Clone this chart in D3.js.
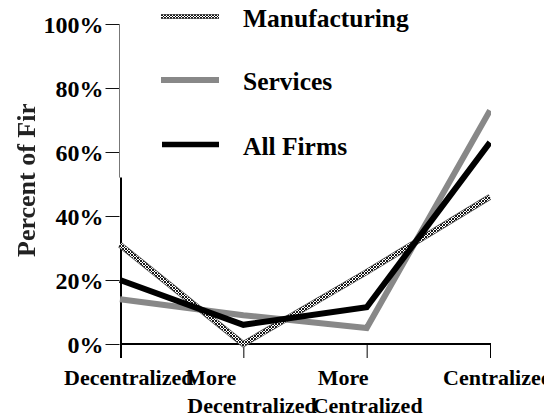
<!DOCTYPE html>
<html><head><meta charset="utf-8">
<script src="https://cdn.jsdelivr.net/npm/d3@7"></script>
<style>
html,body{margin:0;padding:0;background:#fff;}
svg{display:block;}
text{font-family:"Liberation Serif","Times New Roman",serif;font-weight:bold;}
</style></head>
<body>
<script>
const categories = ["Decentralized", "More Decentralized", "More Centralized", "Centralized"];
const categoryLines = [["Decentralized"], ["More", "Decentralized"], ["More", "Centralized"], ["Centralized"]];
const seriesNames = ["Manufacturing", "Services", "All Firms"];
const manufacturing = [31, 0, 22.5, 46];
const services = [14, 9, 5, 73];
const allFirms = [20, 6, 11.5, 63];
const yTicks = [0, 20, 40, 60, 80, 100];
const yTitle = "Percent of Firms";
const axisSplit = 52; // where the left axis changes from thin grey to thick black

const W = 544, H = 419;
const svg = d3.select("body").append("svg").attr("width", W).attr("height", H);
const defs = svg.append("defs");

const x = d3.scalePoint().domain(categories).range([120, 490]);
const xLabel = d3.scalePoint().domain(categories).range([64, 443]);
const y = d3.scaleLinear().domain([0, 100]).range([344, 24]);

// hatch pattern
const pat = defs.append("pattern").attr("id", "hatch").attr("patternUnits", "userSpaceOnUse")
  .attr("width", 3).attr("height", 3);
pat.append("rect").attr("width", 3).attr("height", 3).attr("fill", "#fff");
pat.append("path").attr("d", "M0,0L3,3M3,0L0,3").attr("stroke", "#000").attr("stroke-width", 0.9);

defs.append("clipPath").attr("id", "plotClip").append("rect")
  .attr("x", 0).attr("y", 0).attr("width", x.range()[1] + 1).attr("height", H);
defs.append("clipPath").attr("id", "titleClip").append("rect")
  .attr("x", 0).attr("y", 104).attr("width", 60).attr("height", 200);
defs.append("filter").attr("id", "soft").append("feGaussianBlur").attr("stdDeviation", 0.5);

// y title
svg.append("g").attr("clip-path", "url(#titleClip)")
  .append("text")
  .attr("transform", `translate(35,${257}) rotate(-90)`)
  .attr("font-size", 26).attr("fill", "#222").attr("filter", "url(#soft)")
  .text(yTitle);

// y axis ticks and labels
const yAxis = d3.axisLeft(y).tickValues(yTicks).tickSize(14).tickPadding(2).tickFormat(d => d + "%");
const gy = svg.append("g").attr("transform", "translate(119.5,0)").call(yAxis);
gy.select(".domain").remove();
gy.selectAll(".tick line").attr("stroke", "#111");
gy.selectAll(".tick text").attr("font-size", 24).attr("fill", "#000")
  .attr("font-family", '"Liberation Serif","Times New Roman",serif').attr("font-weight", "bold")
  .attr("dy", "0.36em");

// y axis line: thin grey upper part, thick black lower part
svg.append("line").attr("x1", 119.5).attr("x2", 119.5).attr("y1", y(100)).attr("y2", y(axisSplit))
  .attr("stroke", "#777").attr("stroke-width", 1);
svg.append("line").attr("x1", 121).attr("x2", 121).attr("y1", y(axisSplit)).attr("y2", y(0) + 14)
  .attr("stroke", "#000").attr("stroke-width", 2);

// x axis
svg.append("line").attr("x1", x(categories[0])).attr("x2", x(categories[3]) + 1)
  .attr("y1", y(0)).attr("y2", y(0)).attr("stroke", "#000").attr("stroke-width", 2);
svg.selectAll(".xtick").data(categories.slice(1)).enter().append("line")
  .attr("x1", d => x(d) + 0.5).attr("x2", d => x(d) + 0.5)
  .attr("y1", y(0)).attr("y2", y(0) + 14).attr("stroke", "#000").attr("stroke-width", 1);

// x labels (left-aligned lines, small per-line nudges as in the original layout)
const lineNudge = [[0], [-5, -3], [1, -4], [0]];
const xl = svg.selectAll(".xl").data(categories).enter().append("text")
  .attr("font-size", 22).attr("fill", "#000");
xl.each(function(d, i) {
  const t = d3.select(this);
  categoryLines[i].forEach((ln, j) => {
    t.append("tspan").attr("x", xLabel(d) + lineNudge[i][j]).attr("y", 385 + j * 28).text(ln);
  });
});

// lines
const line = d3.line().x((d, i) => x(categories[i])).y(d => y(d));
const plot = svg.append("g").attr("clip-path", "url(#plotClip)");
plot.append("path").datum(services).attr("d", line).attr("fill", "none")
  .attr("stroke", "#888").attr("stroke-width", 6).attr("stroke-linejoin", "miter");
plot.append("path").datum(manufacturing).attr("d", line).attr("fill", "none")
  .attr("stroke", "#555").attr("stroke-width", 6).attr("stroke-linejoin", "miter");
plot.append("path").datum(manufacturing).attr("d", line).attr("fill", "none")
  .attr("stroke", "url(#hatch)").attr("stroke-width", 4.5).attr("stroke-linejoin", "miter");
plot.append("path").datum(allFirms).attr("d", line).attr("fill", "none")
  .attr("stroke", "#000").attr("stroke-width", 6).attr("stroke-linejoin", "miter");

// legend
const legY = [16.5, 80, 144.5];
const leg = svg.selectAll(".leg").data(seriesNames).enter().append("g");
leg.each(function(d, i) {
  const g = d3.select(this);
  if (i === 0) {
    g.append("line").attr("x1", 161).attr("x2", 219).attr("y1", legY[i]).attr("y2", legY[i])
      .attr("stroke", "#555").attr("stroke-width", 5);
    g.append("line").attr("x1", 161).attr("x2", 219).attr("y1", legY[i]).attr("y2", legY[i])
      .attr("stroke", "url(#hatch)").attr("stroke-width", 3.5);
  } else {
    g.append("line").attr("x1", i === 1 ? 161 : 162).attr("x2", 219).attr("y1", legY[i]).attr("y2", legY[i])
      .attr("stroke", i === 1 ? "#888" : "#000").attr("stroke-width", i === 1 ? 6 : 5.5);
  }
  g.append("text").attr("x", 243).attr("y", legY[i] + 10).attr("font-size", 25.5).attr("fill", "#000").text(d);
});
</script>
</body></html>
